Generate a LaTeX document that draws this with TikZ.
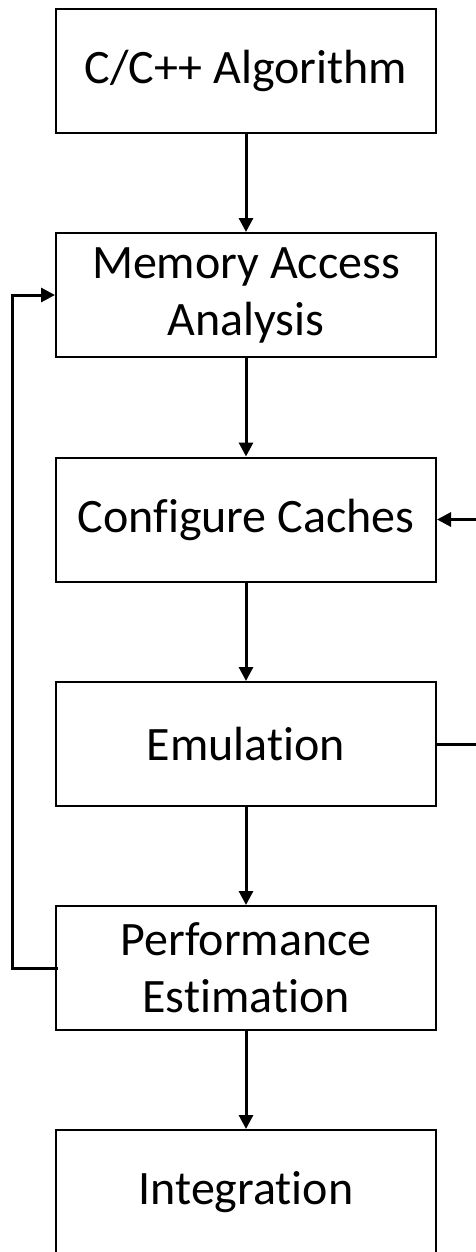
\documentclass[tikz,border=0pt]{standalone}
\usepackage{fontspec}
\setmainfont{Carlito}[Ligatures=NoCommon]
\usetikzlibrary{arrows.meta}
\begin{document}
\begin{tikzpicture}[x=1pt,y=-1pt,
  stepbox/.style={draw=black,line width=2pt,fill=white,minimum width=380pt,
    minimum height=124pt,inner sep=0pt,align=center,
    font=\fontsize{48pt}{57pt}\selectfont},
  tip/.style={-{Triangle[width=14pt,length=14pt]}},
  flow/.style={line width=3pt,tip},
  back/.style={line width=3pt}]
\useasboundingbox (0,0) rectangle (476,1252);
\node[stepbox] (alg)  at (246,71.3) {C/C++ Algorithm};
\node[stepbox] (mem)  at (246,295)  {Memory Access\\Analysis};
\node[stepbox] (cfg)  at (246,519.5) {Configure Caches};
\node[stepbox] (emu)  at (246,744)  {Emulation};
\node[stepbox] (perf) at (246,968)  {Performance\\Estimation};
\node[stepbox] (int)  at (246,1192) {Integration};
\draw[flow] (alg) -- (mem);
\draw[flow] (mem) -- (cfg);
\draw[flow] (cfg) -- (emu);
\draw[flow] (emu) -- (perf);
\draw[flow] (perf) -- (int);
% loop from estimation back to memory analysis
\coordinate (pin) at ([xshift=3pt]perf.west);
\draw[back,tip] (pin) -| (12.5,295) -- (mem.west);
% loop from emulation back to cache configuration
\coordinate (rt) at (495,744);
\draw[back,tip] (emu.east) -- (rt) |- (cfg.east);
\end{tikzpicture}
\end{document}
